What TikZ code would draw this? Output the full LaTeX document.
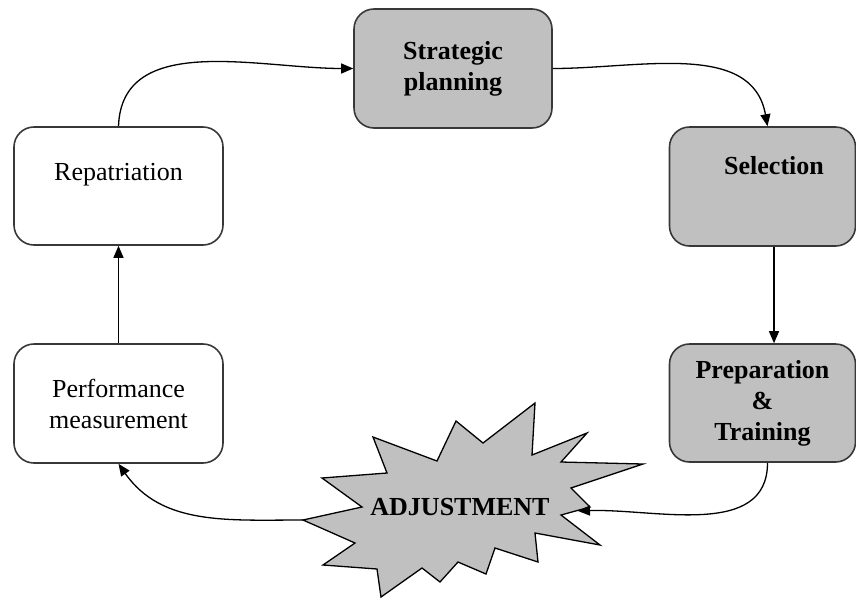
\documentclass[tikz,border=0pt]{standalone}
\usepackage{fontspec}
\setmainfont{Liberation Serif}
\usepackage{tikz}
\usetikzlibrary{arrows.meta}

\definecolor{boxgray}{HTML}{C0C0C0}
\definecolor{edgegray}{HTML}{383838}

\tikzset{
  stage/.style={draw=edgegray, line width=1.6pt, rounded corners=20pt,
    align=center, inner sep=0pt, font=\fontsize{26}{31}\selectfont},
  graystage/.style={stage, fill=boxgray, font=\fontsize{26}{31}\selectfont\bfseries},
  boldtext/.style={align=center, inner sep=0pt, font=\fontsize{26}{31}\selectfont\bfseries},
  plaintext/.style={align=center, inner sep=0pt, font=\fontsize{26}{31}\selectfont},
  flow/.style={line width=1.3pt, -{Triangle[length=12pt,width=10pt]}}
}

\begin{document}
\begin{tikzpicture}[x=1pt, y=-1pt]
  \useasboundingbox (0,0) rectangle (856,598);
  % --- Stages (gray ones on the right, white ones on the left) ---
  \node[graystage, minimum width=198pt, minimum height=119pt] (strat) at (453,68.5) {Strategic\\planning};
  \node[graystage, minimum width=186pt, minimum height=119pt] (sel) at (762.5,186.5) {};
  \node[boldtext] (seltext) at (774,166) {Selection};
  \node[graystage, minimum width=186pt, minimum height=118pt] (prep) at (762.5,403) {Preparation\\\&\\Training};
  \node[stage, minimum width=209pt, minimum height=118pt] (rep) at (118.5,186) {};
  \node[plaintext] (reptext) at (118.5,175) {Repatriation};
  \node[stage, minimum width=209pt, minimum height=119pt] (perf) at (118.5,403.5) {Performance\\measurement};
  % --- Adjustment burst ---
  \coordinate (adjtip) at (303,520);
  \coordinate (adjin) at (578,511);
  \draw[draw=black, line width=1.3pt, fill=boxgray, line join=miter]
    (adjtip) -- (362,507) -- (322,478) -- (387,473) -- (373,437) --
    (437,461) -- (456,421) -- (483,443) -- (535,403) -- (532,455) --
    (587,433) -- (561,462) -- (643,464) -- (571,488) -- (590,507) --
    (561,515) -- (600,545) -- (535,533) -- (538,562) -- (495,548) --
    (486,574) -- (458,562) -- (440,582) -- (422,568) -- (381,597) --
    (377,569) -- (323,565) -- (355,543) -- cycle;
  \node[boldtext] (adj) at (460,507) {ADJUSTMENT};
  % --- Cycle arrows ---
  \draw[flow] (rep.north) to[out=88, in=180] (strat.west);
  \draw[flow] (strat.east) to[out=0, in=100] ([xshift=5pt]sel.north);
  \draw[flow] (sel.south -| seltext) -- (prep.north -| seltext);
  \draw[flow] ([xshift=5pt]prep.south) to[out=-90, in=2] (adjin);
  \draw[flow] (adjtip) to[out=180, in=-55] (perf.south);
  \draw[flow] (perf.north) -- (rep.south);
\end{tikzpicture}
\end{document}
